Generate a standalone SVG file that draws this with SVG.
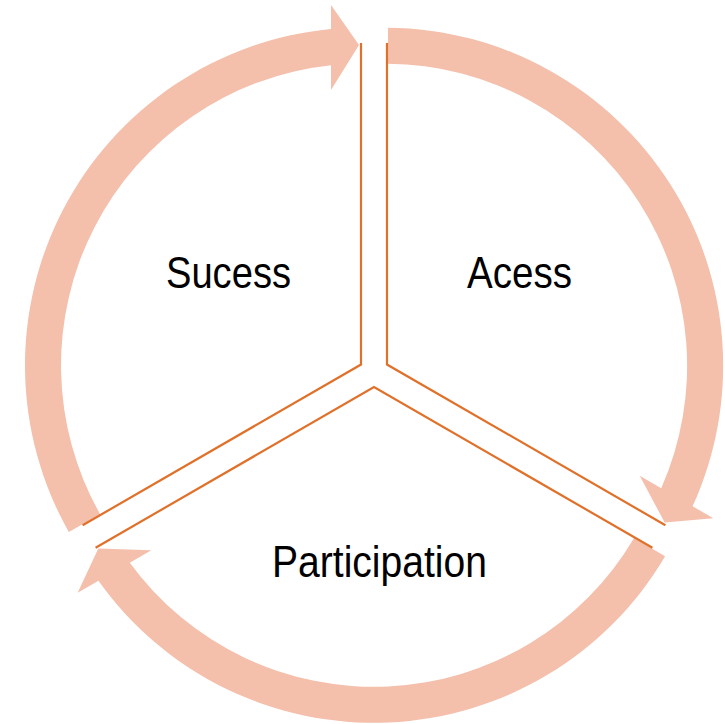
<svg xmlns="http://www.w3.org/2000/svg" width="725" height="724" viewBox="0 0 725 724">
  <style>
    .arrow { fill: #F4BFAB; stroke: none; }
    .divider { fill: none; stroke: #E0712A; stroke-width: 2.2; stroke-linejoin: miter; }
    .label { font-family: "Liberation Sans", Arial, sans-serif; font-size: 44px; fill: #000000; }
  </style>
  <defs>
    <path id="arrowShape" class="arrow" d="M 68.82 531.94 A 338 338 0 0 1 331 29 L 331 5 L 359 45 L 331 90 L 331 65.2 A 302 302 0 0 0 100.15 514.21 Z"/>
    <polyline id="wedgeLines" class="divider" points="361,43 361,364.5 82.6,525.25"/>
  </defs>
  <rect width="725" height="724" fill="#FFFFFF"/>
  <g id="connectors">
    <use id="arrow-sucess-to-acess" href="#arrowShape"/>
    <use id="arrow-acess-to-participation" href="#arrowShape" transform="rotate(120 374 372)"/>
    <use id="arrow-participation-to-sucess" href="#arrowShape" transform="rotate(240 374 372)"/>
  </g>
  <g id="node-sucess">
    <use href="#wedgeLines"/>
    <text class="label" x="166" y="288" textLength="125" lengthAdjust="spacingAndGlyphs">Sucess</text>
  </g>
  <g id="node-acess">
    <use href="#wedgeLines" transform="rotate(120 374 372)"/>
    <text class="label" x="467" y="288" textLength="105" lengthAdjust="spacingAndGlyphs">Acess</text>
  </g>
  <g id="node-participation">
    <use href="#wedgeLines" transform="rotate(240 374 372)"/>
    <text class="label" x="272" y="577" textLength="215" lengthAdjust="spacingAndGlyphs">Participation</text>
  </g>
</svg>
